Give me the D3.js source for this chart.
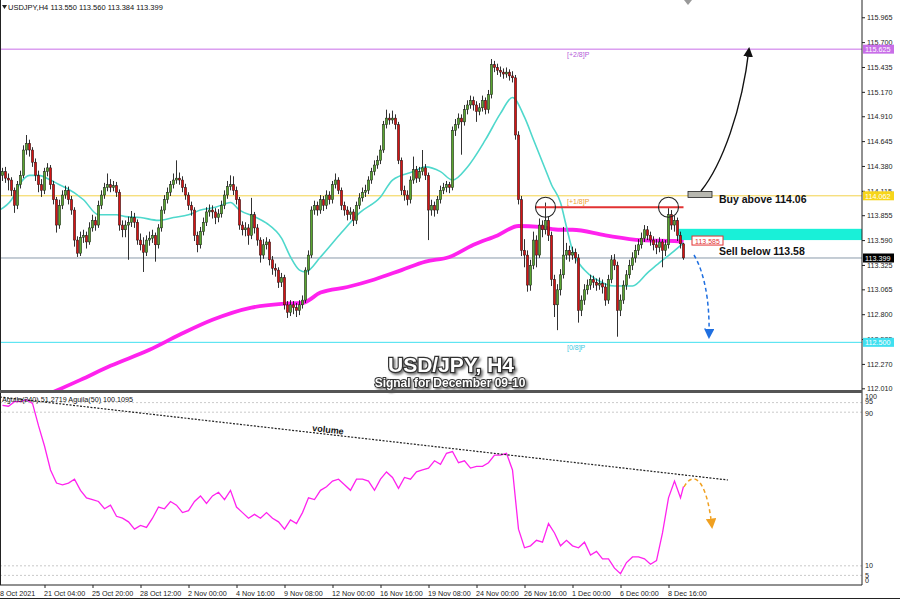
<!DOCTYPE html>
<html><head><meta charset="utf-8">
<script src="https://cdn.jsdelivr.net/npm/d3@7"></script>
<style>body{margin:0;background:#fff;} svg{display:block;font-family:"Liberation Sans",Arial,sans-serif;}</style>
</head><body><svg id="c" width="900" height="600"></svg>
<script>
// ---------------- DATA ----------------
const firstOpen = 114.28;
const closes = [
114.32,114.25,114.23,114.12,113.96,114.18,114.28,114.55,114.62,114.55,
114.42,114.28,114.18,114.12,114.32,114.36,114.18,114.02,113.75,113.96,
114.07,114.12,114.02,113.91,113.59,113.45,113.62,113.64,113.57,113.72,
113.80,113.75,113.96,114.07,114.15,114.18,114.15,114.17,114.10,113.75,
113.70,113.75,113.78,113.83,113.78,113.59,113.54,113.46,113.59,113.61,
113.64,113.54,113.72,113.91,114.02,114.10,114.18,114.23,114.25,114.23,
114.15,114.07,113.96,113.91,113.64,113.54,113.68,113.78,113.89,113.91,
113.89,113.83,113.87,113.96,114.07,114.16,114.18,114.12,114.02,113.75,
113.70,113.72,113.64,113.86,113.72,113.59,113.43,113.54,113.57,113.38,
113.29,113.27,113.14,113.19,112.90,112.82,112.90,112.87,112.84,112.90,
112.95,113.27,113.43,113.91,113.96,113.91,114.02,113.96,114.07,114.02,
114.18,114.23,114.12,113.96,113.91,113.86,113.89,113.80,113.96,114.04,
114.10,114.12,114.23,114.32,114.39,114.44,114.55,114.82,114.89,114.87,
114.89,114.82,114.44,114.12,114.07,114.02,114.23,114.34,114.25,114.32,
114.36,114.28,113.91,113.96,113.91,114.02,114.12,114.15,114.18,114.15,
114.76,114.82,114.89,114.85,114.98,115.03,115.08,115.03,114.96,115.00,
115.08,114.98,115.14,115.46,115.43,115.40,115.38,115.36,115.38,115.34,
115.32,114.71,114.02,113.48,113.43,113.11,113.32,113.59,113.43,113.75,
113.70,113.80,113.64,113.17,112.90,113.06,113.22,113.43,113.48,113.43,
113.46,113.40,112.84,112.95,113.06,113.11,113.17,113.14,113.11,113.13,
113.09,112.95,113.17,113.38,113.32,112.84,112.95,113.11,113.22,113.32,
113.40,113.48,113.54,113.61,113.70,113.64,113.59,113.54,113.51,113.57,
113.48,113.54,113.86,113.75,113.80,113.64,113.55,113.40];
const highs = [
114.36,114.37,114.30,114.26,114.15,114.22,114.33,114.60,114.71,114.66,
114.58,114.46,114.33,114.24,114.36,114.41,114.39,114.22,114.05,114.02,
114.12,114.17,114.16,114.06,113.94,113.63,113.68,113.70,113.68,113.78,
113.86,113.84,114.01,114.12,114.20,114.30,114.24,114.22,114.21,114.13,
113.80,113.80,113.84,113.90,113.88,113.81,113.66,113.62,113.64,113.68,
113.70,113.67,113.76,113.95,114.07,114.15,114.22,114.30,114.44,114.31,
114.27,114.19,114.10,114.00,113.94,113.68,113.73,113.83,113.94,113.97,
113.96,113.93,113.92,114.01,114.12,114.22,114.28,114.27,114.16,114.05,
113.79,113.78,113.76,114.04,113.89,113.76,113.62,113.60,113.62,113.60,
113.42,113.34,113.30,113.24,113.22,112.94,112.95,112.94,112.92,112.95,
113.00,113.30,113.48,113.95,114.01,114.00,114.07,114.06,114.12,114.11,
114.22,114.30,114.26,114.15,114.00,113.95,113.94,113.92,114.00,114.09,
114.15,114.18,114.27,114.36,114.44,114.49,114.60,114.86,114.98,114.94,
114.97,114.93,114.85,114.47,114.17,114.12,114.27,114.48,114.38,114.37,
114.55,114.40,114.31,114.02,114.00,114.06,114.17,114.20,114.22,114.21,
114.80,114.88,114.94,114.93,115.03,115.08,115.13,115.12,115.07,115.05,
115.13,115.11,115.19,115.52,115.50,115.47,115.44,115.42,115.43,115.41,
115.39,115.35,114.75,114.06,113.60,113.48,113.38,113.68,113.64,113.82,
113.80,113.99,113.84,113.68,113.22,113.12,113.28,113.73,113.56,113.53,
113.52,113.50,113.44,113.00,113.12,113.17,113.22,113.21,113.18,113.19,
113.17,113.13,113.22,113.43,113.44,113.36,113.01,113.16,113.27,113.38,
113.46,113.54,113.60,113.67,113.75,113.74,113.68,113.63,113.60,113.62,
113.60,113.59,113.93,113.91,113.85,113.83,113.68,113.56];
const lows = [
114.22,114.20,114.12,114.06,113.88,113.92,114.14,114.25,114.50,114.48,
114.37,114.22,114.10,114.05,114.08,114.27,114.13,113.97,113.67,113.71,
113.92,114.03,113.97,113.86,113.52,113.41,113.42,113.56,113.50,113.54,
113.68,113.69,113.72,113.92,114.03,114.11,114.10,114.11,114.05,113.69,
113.62,113.62,113.38,113.73,113.72,113.54,113.48,113.25,113.42,113.53,
113.56,113.36,113.50,113.68,113.87,113.98,114.06,114.14,114.19,114.18,
114.10,114.02,113.91,113.85,113.58,113.46,113.50,113.64,113.74,113.84,
113.82,113.76,113.78,113.83,113.92,114.03,114.12,114.07,113.97,113.70,
113.64,113.63,113.54,113.60,113.66,113.53,113.35,113.39,113.49,113.32,
113.22,113.20,113.08,113.09,112.85,112.76,112.78,112.80,112.77,112.79,
112.86,112.92,113.22,113.40,113.86,113.85,113.87,113.90,113.92,113.97,
113.98,114.14,114.08,113.91,113.85,113.80,113.81,113.74,113.76,113.92,
114.00,114.05,114.08,114.19,114.28,114.35,114.40,114.52,114.78,114.82,
114.83,114.77,114.40,114.07,114.01,113.96,113.98,114.19,114.20,114.21,
114.28,114.23,113.59,113.85,113.84,113.87,113.98,114.08,114.10,114.09,
114.12,114.70,114.78,114.50,114.81,114.93,114.99,114.97,114.85,114.92,
114.96,114.93,114.94,115.10,115.38,115.35,115.33,115.31,115.32,115.29,
115.27,114.66,113.97,113.42,113.30,113.04,113.05,113.28,113.30,113.40,
113.62,113.65,113.58,113.10,112.77,112.63,113.00,113.18,113.38,113.36,
113.38,113.34,112.71,112.78,112.90,113.01,113.06,113.08,113.05,113.06,
113.02,112.89,112.91,113.13,113.27,112.56,112.78,112.91,113.06,113.18,
113.27,113.35,113.43,113.50,113.57,113.59,113.53,113.48,113.44,113.46,
113.30,113.42,113.50,113.70,113.68,113.58,113.50,113.38];

// moving averages (candle index, price)
const fastMAIdx = [-1,3,6,9,12,16,19,21,27,32,38,41,46,52,57,62,66,71,76,79,84,88,93,96,99,101,106,113,119,126,130,137,141,146,150,155,161,166,170,174,177,181,183,186,188,190,194,198,204,210,215,219,223,227];
const fastMAVal = [113.91,114.02,114.20,114.28,114.28,114.23,114.18,114.15,114.02,113.86,113.86,113.84,113.83,113.80,113.83,113.86,113.91,113.94,113.99,113.91,113.84,113.77,113.61,113.41,113.27,113.25,113.41,113.67,113.88,114.05,114.23,114.32,114.37,114.32,114.23,114.37,114.66,114.94,115.11,114.90,114.66,114.34,114.18,113.99,113.73,113.48,113.27,113.17,113.10,113.10,113.24,113.35,113.45,113.56];
const slowMAIdx = [14,26,36,49,59,70,83,93,100,106,115,124,133,141,149,157,165,172,179,186,190,201,213,224,227];
const slowMAVal = [111.93,112.10,112.25,112.42,112.58,112.74,112.87,112.91,112.92,113.03,113.09,113.17,113.27,113.36,113.41,113.54,113.64,113.74,113.73,113.70,113.70,113.64,113.59,113.58,113.57];

// oscillator Aguila(240), sampled every second candle (+ last candle)
const oscVals = [93.6,93.1,95.5,95.5,96.5,94.6,83.0,72.4,59.9,53.1,52.2,53.1,55.1,49.3,45.4,44.5,43.5,39.7,41.6,35.8,
34.8,32.9,29.1,31.0,30.0,34.8,40.6,39.7,43.5,41.6,37.7,38.7,43.5,46.4,42.5,46.4,48.3,44.5,49.3,40.6,
37.7,34.8,36.8,34.8,37.7,34.8,32.9,29.1,33.9,32.0,37.7,45.4,44.5,49.3,51.2,54.1,55.1,52.2,49.3,55.1,
55.1,54.1,49.3,55.1,58.9,56.0,50.3,56.0,55.1,58.9,59.9,60.9,64.7,62.8,68.6,69.5,63.7,64.7,60.9,61.8,
61.8,63.7,67.6,67.6,68.6,59.9,29.1,19.4,20.4,23.3,22.3,32.0,27.1,20.4,23.3,20.4,19.4,22.3,15.6,17.5,
13.6,13.6,8.8,5.9,11.7,14.6,14.6,13.6,10.8,12.7,27.1,45.4,54.1,45.4,51.3];
const oscIdx = d3.range(0, 228, 2).concat([227]);

const priceTicks = [115.965,115.700,115.435,115.170,114.910,114.645,114.380,114.115,113.855,113.590,113.325,113.065,112.800,112.535,112.270,112.010];
const dateIdx = [-2,14,30,46,62,78,94,110,126,142,158,174,190,206,222];
const dateLabels = ["18 Oct 2021","21 Oct 04:00","25 Oct 20:00","28 Oct 12:00","2 Nov 00:00","4 Nov 16:00","9 Nov 08:00","12 Nov 00:00","16 Nov 16:00","19 Nov 08:00","24 Nov 00:00","26 Nov 16:00","1 Dec 00:00","6 Dec 00:00","8 Dec 16:00"];
const oscLevels = [95, 90, 10, 5];
const oscLabels = [100, 95, 90, 10, 5, 0];

const murreyPrices = [115.625, 114.062, 112.500];
const murreyNames = ["[+2/8]P", "[+1/8]P", "[0/8]P"];
const lastPrice = 113.399;
const resistance = 113.94;        // red line with circles
const zoneTop = 113.71, zoneBottom = 113.59;
const sellLevel = 113.585;
const buyText = "Buy above 114.06", sellText = "Sell below 113.58";

// ---------------- DRAW ----------------
const svg = d3.select("#c");
const W = 900, axisX = 862;
const mainTop = 0, mainBot = 390, subTop = 393, subBot = 585;

const x = d3.scaleLinear().domain([0, 227]).range([2.5, 683.5]);
const y = d3.scaleLinear().domain([111.992, 116.149]).range([mainBot, mainTop]);
const yo = d3.scaleLinear().domain([0, 100]).range([585, 393]);

const defs = svg.append("defs");
defs.append("clipPath").attr("id","cm").append("rect").attr("x",0).attr("y",mainTop).attr("width",axisX).attr("height",mainBot-mainTop);
defs.append("clipPath").attr("id","cs").append("rect").attr("x",0).attr("y",subTop).attr("width",axisX).attr("height",subBot-subTop);
const sh = defs.append("filter").attr("id","shadow").attr("x","-10%").attr("y","-30%").attr("width","130%").attr("height","180%");
sh.append("feDropShadow").attr("dx",1.8).attr("dy",1.8).attr("stdDeviation",0.9).attr("flood-color","#555").attr("flood-opacity",0.8);
function marker(id, color){
  defs.append("marker").attr("id",id).attr("viewBox","0 0 10 10").attr("refX",8).attr("refY",5)
    .attr("markerWidth",7).attr("markerHeight",7).attr("orient","auto-start-reverse")
    .append("path").attr("d","M0,0 L10,5 L0,10 z").attr("fill",color);
}
marker("arK","#111"); marker("arB","#1f6fe0"); marker("arO","#f0a020");

const gm = svg.append("g").attr("clip-path","url(#cm)");
const gs = svg.append("g").attr("clip-path","url(#cs)");

// Murrey lines
const mColors = ["#c86ee8", "#f2d24a", "#3fe0f0"];
const mText = ["#b45ad8", "#f0a030", "#3fc8e0"];
murreyPrices.forEach((p,k)=>{
  gm.append("line").attr("x1",0).attr("x2",axisX).attr("y1",y(p)).attr("y2",y(p)).attr("stroke",mColors[k]).attr("stroke-width",1);
  gm.append("text").attr("x",567).attr("y",y(p)+8).attr("font-size",7).attr("fill",mText[k]).text(murreyNames[k]);
});
// last price line
gm.append("line").attr("x1",0).attr("x2",axisX).attr("y1",y(lastPrice)).attr("y2",y(lastPrice)).attr("stroke","#8a9aaa").attr("stroke-width",1);

// cyan zone
gm.append("rect").attr("x",x(226)-2).attr("y",y(zoneTop)).attr("width",axisX-(x(226)-2)).attr("height",y(zoneBottom)-y(zoneTop)).attr("fill","#19f0d8");

// slow MA
const lineGen = d3.line().x(d=>x(d[0])).y(d=>y(d[1])).curve(d3.curveMonotoneX);
gm.append("path").attr("d",lineGen(slowMAIdx.map((v,i)=>[v,slowMAVal[i]]))).attr("fill","none").attr("stroke","#ff22ee").attr("stroke-width",3.8);
// fast MA
gm.append("path").attr("d",lineGen(fastMAIdx.map((v,i)=>[v,fastMAVal[i]]))).attr("fill","none").attr("stroke","#4fd8cc").attr("stroke-width",1.6);

// candles
const cg = gm.append("g");
closes.forEach((c,i)=>{
  const o = i===0 ? firstOpen : closes[i-1];
  const cx = x(i);
  cg.append("line").attr("x1",cx).attr("x2",cx).attr("y1",y(highs[i])).attr("y2",y(lows[i])).attr("stroke","#1a1a1a").attr("stroke-width",0.9);
  const top = y(Math.max(o,c)), bot = y(Math.min(o,c));
  cg.append("rect").attr("x",cx-1.2).attr("width",2.4).attr("y",top).attr("height",Math.max(0.8,bot-top))
    .attr("fill", c>=o ? "#5aa531" : "#d41414").attr("stroke","#1a1a1a").attr("stroke-width",0.5);
});

// red resistance line and circles
gm.append("line").attr("x1",535).attr("x2",x(227)).attr("y1",y(resistance)).attr("y2",y(resistance)).attr("stroke","#e23232").attr("stroke-width",1.8);
[181, 222].forEach(i=>{
  gm.append("circle").attr("cx",x(i)).attr("cy",y(resistance)).attr("r",10).attr("fill","none").attr("stroke","#222").attr("stroke-width",1.1);
});

// sell level box
const sb = svg.append("g");
sb.append("rect").attr("x",692).attr("y",y(sellLevel)-4.5).attr("width",31).attr("height",9).attr("fill","#fff").attr("stroke","#e23232").attr("stroke-width",1);
sb.append("text").attr("x",707.5).attr("y",y(sellLevel)+3).attr("text-anchor","middle").attr("font-size",7).attr("fill","#e23232").text(sellLevel.toFixed(3));

// button rect
svg.append("rect").attr("x",688).attr("y",191.5).attr("width",24).attr("height",6).attr("fill","#b8b8b0").attr("stroke","#222").attr("stroke-width",0.8);

// texts
svg.append("text").attr("x",719).attr("y",y(114.06)+7).attr("font-size",10.5).attr("font-weight","bold").attr("fill","#111").text(buyText);
svg.append("text").attr("x",719).attr("y",y(113.58)+14).attr("font-size",10.5).attr("font-weight","bold").attr("fill","#111").text(sellText);

// arrows
svg.append("path").attr("d","M701,191 C722,165 742,110 749,49").attr("fill","none").attr("stroke","#111").attr("stroke-width",1.4).attr("marker-end","url(#arK)");
svg.append("path").attr("d","M694,255 C704,272 710,300 709,337").attr("fill","none").attr("stroke","#1f6fe0").attr("stroke-width",1.5).attr("stroke-dasharray","4,3").attr("marker-end","url(#arB)");

// title
const tg = svg.append("g").attr("text-anchor","middle").attr("font-weight","bold").attr("filter","url(#shadow)");
tg.append("text").attr("x",451).attr("y",372).attr("font-size",21).attr("fill","#fff").attr("stroke","#333").attr("stroke-width",2.5).attr("paint-order","stroke").text("USD/JPY, H4");
tg.append("text").attr("x",450).attr("y",387).attr("font-size",12).attr("fill","#fff").attr("stroke","#333").attr("stroke-width",2).attr("paint-order","stroke").text("Signal for December 09-10");

// header
svg.append("path").attr("d","M2,5 L7,5 L4.5,9 z").attr("fill","#222");
svg.append("text").attr("x",8).attr("y",10).attr("font-size",7.5).attr("fill","#111").text("USDJPY,H4  113.550 113.560 113.384 113.399");
svg.append("path").attr("d","M684,0 L692,0 L688,5 z").attr("fill","#999");

// panel frames
svg.append("line").attr("x1",0.5).attr("x2",0.5).attr("y1",0).attr("y2",subBot).attr("stroke","#222");
svg.append("line").attr("x1",axisX).attr("x2",axisX).attr("y1",0).attr("y2",subBot).attr("stroke","#222");
svg.append("rect").attr("x",0).attr("y",mainBot).attr("width",axisX).attr("height",subTop-mainBot).attr("fill","#555");
svg.append("line").attr("x1",0).attr("x2",axisX).attr("y1",subBot).attr("y2",subBot).attr("stroke","#222");

// price axis
const ay = svg.append("g").attr("transform",`translate(${axisX},0)`)
  .call(d3.axisRight(y).tickValues(priceTicks).tickFormat(d3.format(".3f")).tickSize(3).tickPadding(2));
ay.select(".domain").remove();
ay.selectAll("text").attr("font-size",7.2).attr("font-family","Liberation Sans, Arial").attr("fill","#222");
ay.selectAll("line").attr("stroke","#222");

// price tags
const tagBg = ["#c86ee8","#f7d51a","#3fe0f0"];
murreyPrices.forEach((p,k)=>{
  svg.append("rect").attr("x",axisX+1).attr("y",y(p)-4.5).attr("width",31).attr("height",9).attr("fill",tagBg[k]);
  svg.append("text").attr("x",axisX+3).attr("y",y(p)+3).attr("font-size",7.2).attr("fill","#fff").text(p.toFixed(3));
});
svg.append("rect").attr("x",axisX+1).attr("y",y(lastPrice)-4.5).attr("width",31).attr("height",9).attr("fill","#000");
svg.append("text").attr("x",axisX+3).attr("y",y(lastPrice)+3).attr("font-size",7.2).attr("fill","#fff").text(lastPrice.toFixed(3));

// sub panel
oscLevels.forEach(v=>{
  gs.append("line").attr("x1",0).attr("x2",axisX).attr("y1",yo(v)).attr("y2",yo(v)).attr("stroke","#bbb").attr("stroke-dasharray","2,2").attr("stroke-width",0.8);
});
const oscLine = d3.line().x(d=>x(d[0])).y(d=>yo(d[1]));
gs.append("path").attr("d",oscLine(oscIdx.map((v,i)=>[v,oscVals[i]]))).attr("fill","none").attr("stroke","#ff22ee").attr("stroke-width",1.3);
// trend line "volume"
gs.append("line").attr("x1",0).attr("y1",397).attr("x2",728).attr("y2",480).attr("stroke","#222").attr("stroke-width",1.2).attr("stroke-dasharray","2,1.5");
const ang = Math.atan2(480-397,728)*180/Math.PI;
svg.append("text").attr("transform",`translate(312,431) rotate(${ang})`).attr("font-size",9).attr("font-weight","bold").attr("fill","#111").text("volume");
// orange arrow
svg.append("path").attr("d","M684,487 C692,472 706,474 712,527").attr("fill","none").attr("stroke","#f0a020").attr("stroke-width",1.5).attr("stroke-dasharray","4,3").attr("marker-end","url(#arO)");

svg.append("text").attr("x",2).attr("y",402).attr("font-size",7.2).attr("fill","#111").text("Aguila(240) 51.2719  Aguila(50) 100.1095");
// sub axis labels
const oscLabY = [396, 401, 413, 565, 575, 580];
oscLabels.forEach((v,k)=>{
  svg.append("text").attr("x",axisX+3).attr("y",oscLabY[k]+2.5).attr("font-size",7.2).attr("fill","#222").text(v);
});

// time axis
const ax = svg.append("g").attr("transform",`translate(0,${subBot})`)
  .call(d3.axisBottom(x).tickValues(dateIdx).tickFormat((d,i)=>dateLabels[i]).tickSize(3).tickPadding(3));
ax.select(".domain").remove();
ax.selectAll("text").attr("font-size",7.2).attr("font-family","Liberation Sans, Arial").attr("fill","#222").attr("text-anchor","start").attr("dx",-1);
ax.selectAll("line").attr("stroke","#222");
svg.append("line").attr("x1",0).attr("x2",W).attr("y1",598.5).attr("y2",598.5).attr("stroke","#222");
</script></body></html>
